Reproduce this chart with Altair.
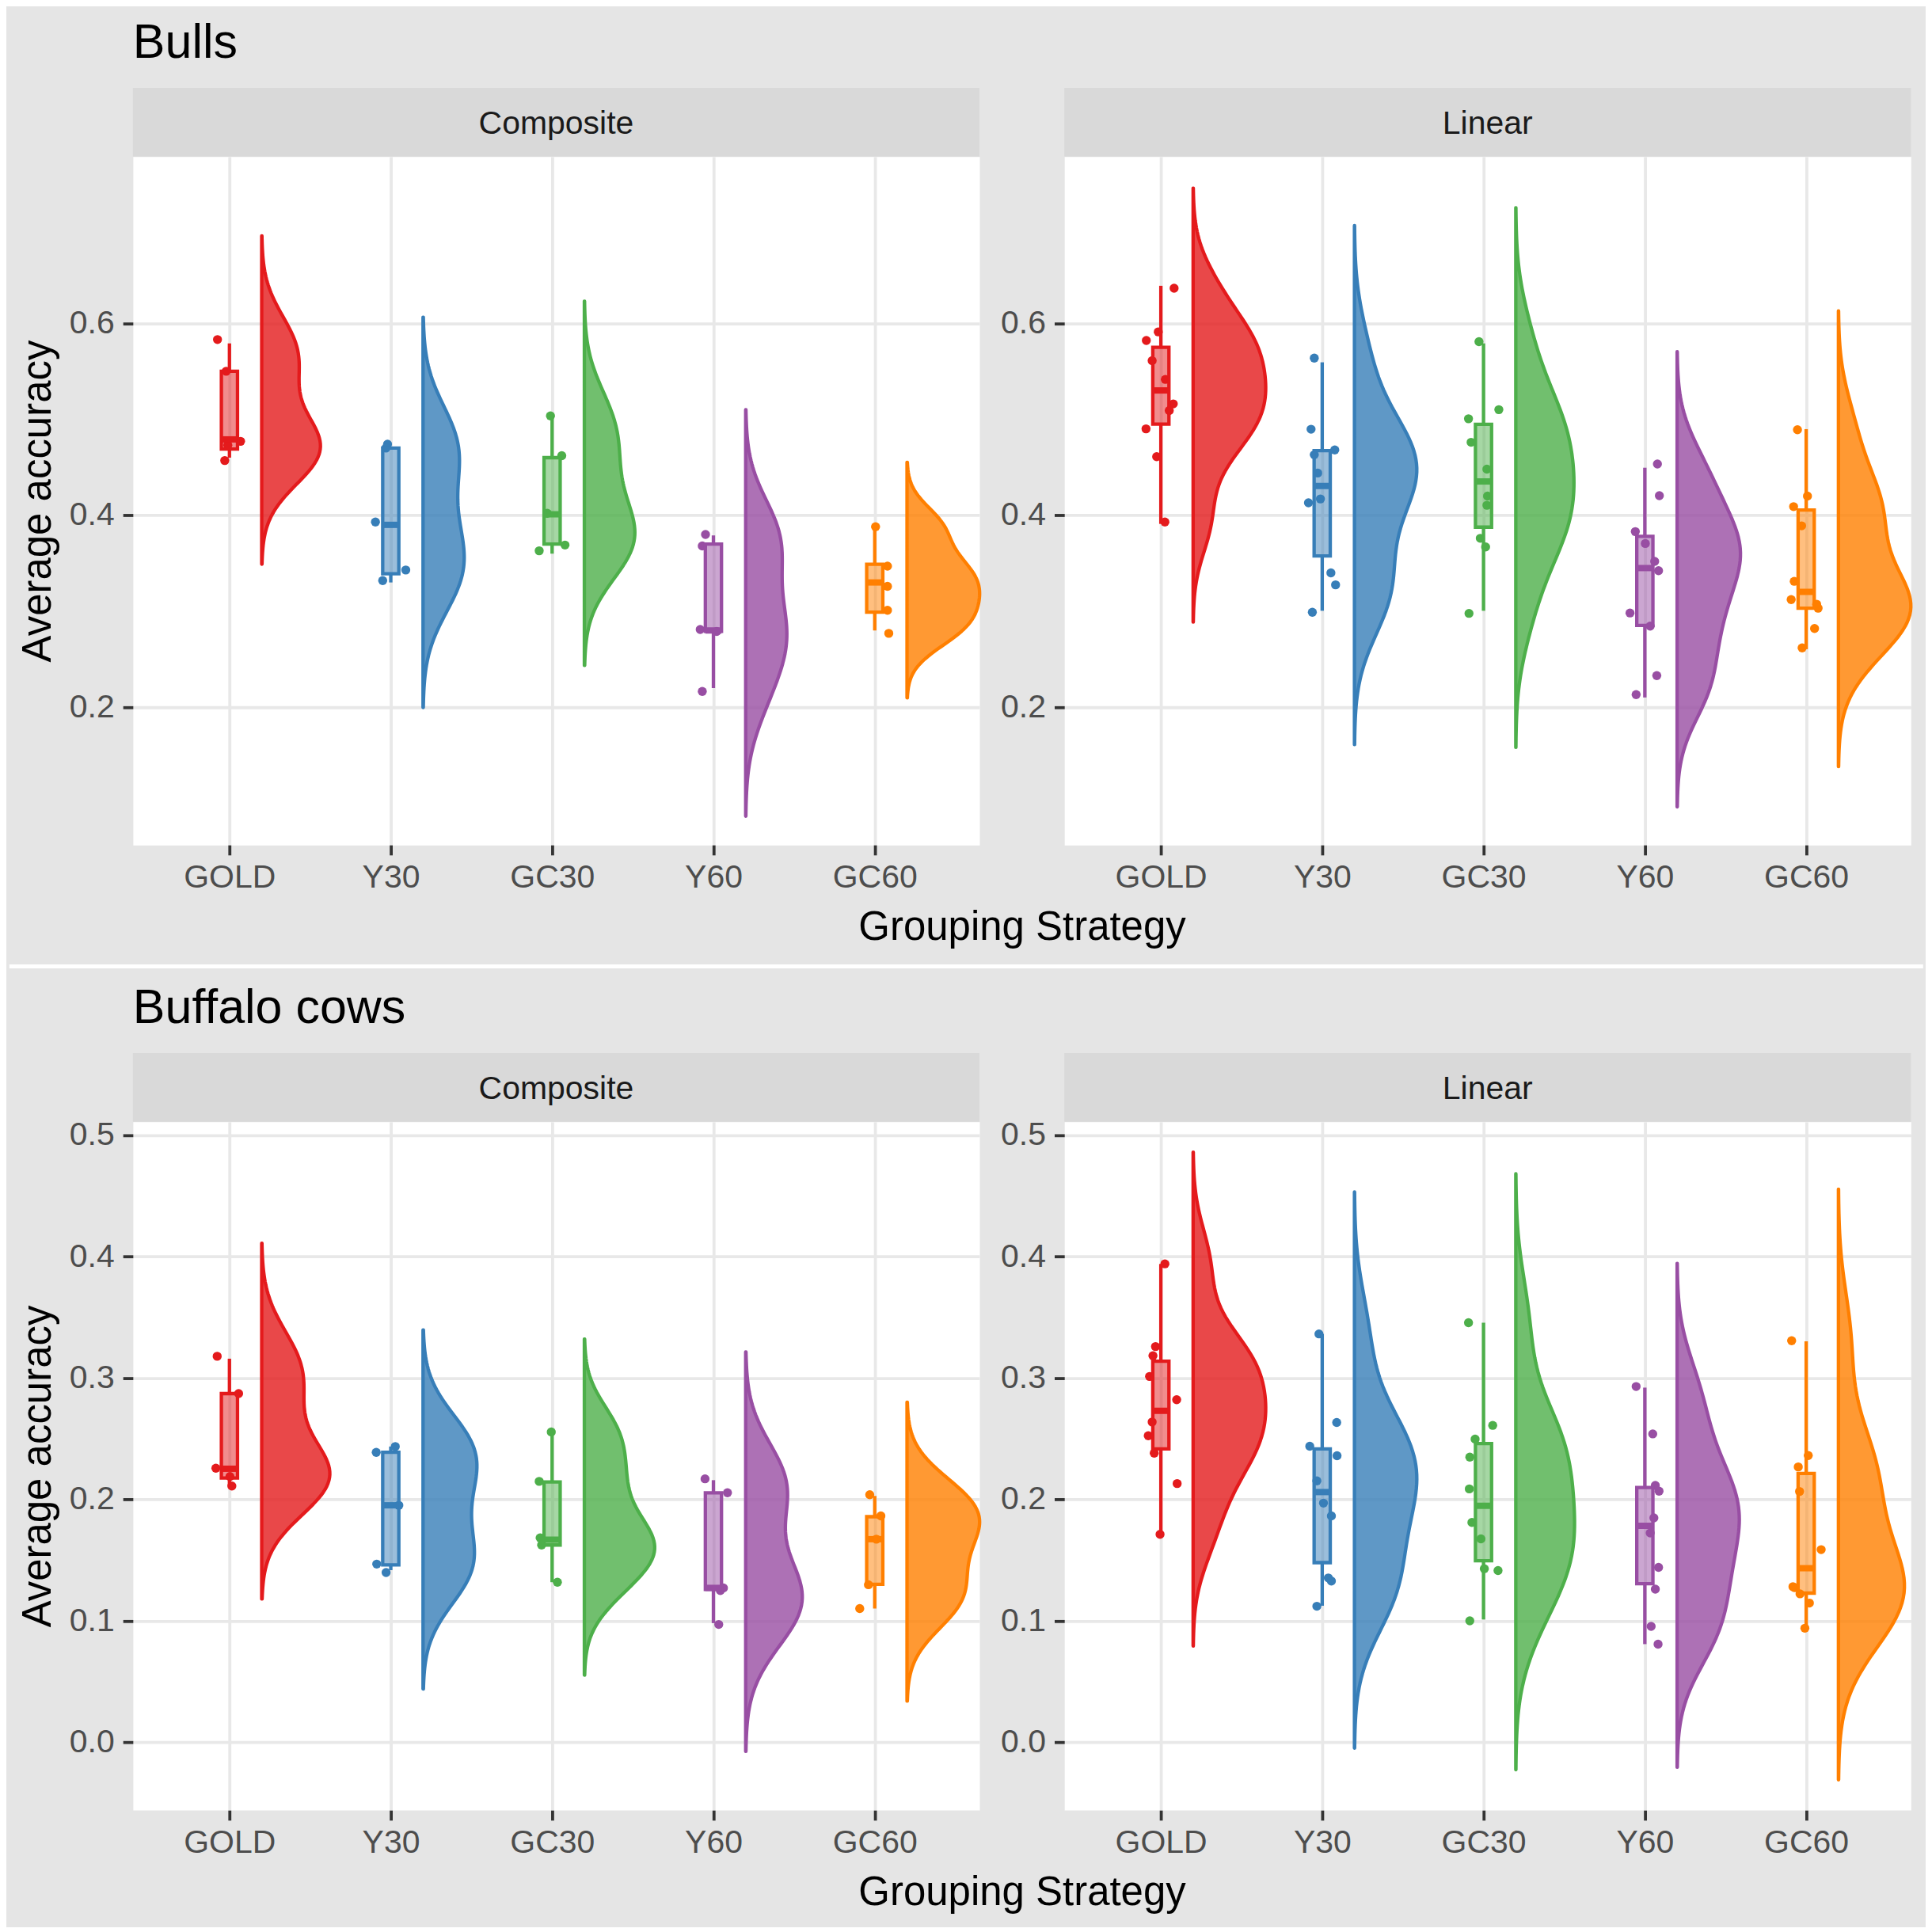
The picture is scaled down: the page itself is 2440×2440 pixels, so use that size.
import altair as alt
import pandas as pd

STRATEGIES = ["GOLD", "Y30", "GC30", "Y60", "GC60"]
COLORS = ["#E41A1C", "#377EB8", "#4DAF4A", "#984EA3", "#FF7F00"]
MODELS = ["Composite", "Linear"]
DATASETS = ["Bulls", "Buffalo cows"]

# ---------------- Bulls / Composite ----------------
BULLS_COMPOSITE_VALUES = [
    [0.583, 0.550, 0.477, 0.473, 0.457],
    [0.474, 0.470, 0.393, 0.343, 0.332],
    [0.5035, 0.462, 0.402, 0.369, 0.363],
    [0.380, 0.368, 0.281, 0.279, 0.2165],
    [0.388, 0.347, 0.326, 0.301, 0.277],
]
BULLS_COMPOSITE_JITTER = [
    [-0.074, -0.020, 0.069, -0.010, -0.029],
    [-0.020, -0.030, -0.095, 0.093, -0.050],
    [-0.010, 0.060, -0.030, 0.080, -0.080],
    [-0.049, -0.069, -0.082, 0.020, -0.069],
    [0.005, 0.079, 0.079, 0.079, 0.087],
]
BULLS_COMPOSITE_LOWER = [0.460, 0.330, 0.360, 0.220, 0.280]
BULLS_COMPOSITE_Q1 = [0.469, 0.339, 0.370, 0.279, 0.299]
BULLS_COMPOSITE_MEDIAN = [0.479, 0.390, 0.401, 0.280, 0.330]
BULLS_COMPOSITE_Q3 = [0.550, 0.470, 0.460, 0.370, 0.349]
BULLS_COMPOSITE_UPPER = [0.579, 0.470, 0.503, 0.379, 0.388]

# ---------------- Bulls / Linear ----------------
BULLS_LINEAR_VALUES = [
    [0.6365, 0.591, 0.582, 0.561, 0.5415, 0.516, 0.509, 0.490, 0.461, 0.393],
    [0.5637, 0.4896, 0.468, 0.463, 0.444, 0.417, 0.413, 0.340, 0.3275, 0.299],
    [0.5808, 0.510, 0.5005, 0.476, 0.448, 0.420, 0.4104, 0.376, 0.367, 0.2978],
    [0.4534, 0.4204, 0.383, 0.3706, 0.352, 0.3422, 0.2982, 0.2845, 0.233, 0.2132],
    [0.4891, 0.420, 0.409, 0.389, 0.3312, 0.3122, 0.3073, 0.3032, 0.282, 0.2619],
]
BULLS_LINEAR_JITTER = [
    [0.082, -0.016, -0.090, -0.054, 0.028, 0.077, 0.052, -0.092, -0.026, 0.025],
    [-0.049, -0.069, 0.078, -0.049, -0.028, -0.011, -0.085, 0.054, 0.083, -0.061],
    [-0.028, 0.095, -0.093, -0.077, 0.021, 0.025, 0.021, -0.020, 0.013, -0.090],
    [0.078, 0.090, -0.059, 0.003, 0.061, 0.085, -0.092, 0.033, 0.074, -0.054],
    [-0.054, 0.008, -0.078, -0.028, -0.074, -0.093, 0.065, 0.074, 0.052, -0.025],
]
BULLS_LINEAR_LOWER = [0.391, 0.3005, 0.3005, 0.2102, 0.2605]
BULLS_LINEAR_Q1 = [0.495, 0.3577, 0.3876, 0.2853, 0.3032]
BULLS_LINEAR_MEDIAN = [0.530, 0.4305, 0.4352, 0.345, 0.3202]
BULLS_LINEAR_Q3 = [0.575, 0.4673, 0.4948, 0.378, 0.4055]
BULLS_LINEAR_UPPER = [0.639, 0.5593, 0.579, 0.4495, 0.4897]

# ---------------- Buffalo cows / Composite ----------------
BUFFALO_COMPOSITE_VALUES = [
    [0.318, 0.2873, 0.2258, 0.219, 0.2112],
    [0.2437, 0.2389, 0.1953, 0.1469, 0.140],
    [0.2557, 0.215, 0.1685, 0.1626, 0.132],
    [0.2171, 0.2056, 0.1273, 0.1251, 0.0972],
    [0.204, 0.1866, 0.1674, 0.1299, 0.1103],
]
BUFFALO_COMPOSITE_JITTER = [
    [-0.076, 0.057, -0.084, 0.003, 0.015],
    [0.028, -0.090, 0.050, -0.087, -0.029],
    [-0.005, -0.080, -0.074, -0.065, 0.033],
    [-0.052, 0.087, 0.062, 0.043, 0.033],
    [-0.031, 0.038, 0.010, -0.039, -0.093],
]
BUFFALO_COMPOSITE_LOWER = [0.2106, 0.1419, 0.132, 0.0983, 0.1103]
BUFFALO_COMPOSITE_Q1 = [0.2178, 0.1462, 0.1626, 0.126, 0.1303]
BUFFALO_COMPOSITE_MEDIAN = [0.2254, 0.1953, 0.167, 0.1273, 0.1674]
BUFFALO_COMPOSITE_Q3 = [0.2873, 0.2389, 0.2145, 0.2056, 0.1859]
BUFFALO_COMPOSITE_UPPER = [0.316, 0.2437, 0.2557, 0.216, 0.203]

# ---------------- Buffalo cows / Linear ----------------
BUFFALO_LINEAR_VALUES = [
    [0.3941, 0.326, 0.3184, 0.3014, 0.2822, 0.2639, 0.2526, 0.2382, 0.2132, 0.1714],
    [0.3364, 0.2635, 0.2439, 0.2361, 0.2154, 0.1971, 0.1866, 0.1355, 0.1329, 0.1122],
    [0.3456, 0.2611, 0.2498, 0.235, 0.2088, 0.1812, 0.1677, 0.1431, 0.1416, 0.1002],
    [0.2931, 0.2541, 0.2117, 0.2069, 0.1849, 0.1725, 0.1442, 0.1263, 0.0956, 0.081],
    [0.3308, 0.2363, 0.2269, 0.2067, 0.1588, 0.1283, 0.1275, 0.1224, 0.1148, 0.0941],
]
BUFFALO_LINEAR_JITTER = [
    [0.025, -0.033, -0.049, -0.070, 0.098, -0.054, -0.078, -0.041, 0.101, -0.005],
    [-0.020, 0.090, -0.077, 0.092, -0.033, 0.008, 0.057, 0.038, 0.057, -0.033],
    [-0.093, 0.057, -0.052, -0.085, -0.088, -0.072, -0.016, 0.005, 0.090, -0.085],
    [-0.054, 0.049, 0.065, 0.088, 0.056, 0.033, 0.085, 0.065, 0.039, 0.082],
    [-0.090, 0.013, -0.049, -0.041, 0.093, -0.082, -0.070, -0.038, 0.020, -0.008],
]
BUFFALO_LINEAR_LOWER = [0.1714, 0.1126, 0.1013, 0.081, 0.0941]
BUFFALO_LINEAR_Q1 = [0.2417, 0.1481, 0.1496, 0.1307, 0.123]
BUFFALO_LINEAR_MEDIAN = [0.2731, 0.2062, 0.1949, 0.1784, 0.1435]
BUFFALO_LINEAR_Q3 = [0.314, 0.2417, 0.2461, 0.2099, 0.2215]
BUFFALO_LINEAR_UPPER = [0.394, 0.3364, 0.3456, 0.2922, 0.3303]

BULLS_YTICKS = [0.2, 0.4, 0.6]
BULLS_YDOMAIN = [0.0566, 0.7735]
BUFFALO_YTICKS = [0.0, 0.1, 0.2, 0.3, 0.4, 0.5]
BUFFALO_YDOMAIN = [-0.0557, 0.511]

# ---------------- layout / style ----------------
W, H, SH = 1070, 870, 87
GAP = 107.3          # horizontal gap between the two panels
BLOCK_GAP = 263      # from bottom of upper panels to top of lower strips
XDOM = [0.4017, 5.649]
G = 120
BG = "#E5E5E5"
STRIP = "#D9D9D9"
GRID = "#E8E8E8"
FONT = "Liberation Sans"
LW = 4.3             # line width of violins, boxes, whiskers

cscale = alt.Scale(domain=STRATEGIES, range=COLORS)
LABEL_EXPR = "[''," + ",".join("'%s'" % s for s in STRATEGIES) + "][datum.value]"


def points_frame(values, jitter):
    rows = []
    for i, s in enumerate(STRATEGIES):
        for v, d in zip(values[i], jitter[i]):
            rows.append({"strategy": s, "pos": i + 1, "value": v, "dx": d})
    return pd.DataFrame(rows)


def box_frame(lower, q1, med, q3, upper):
    return pd.DataFrame({
        "strategy": STRATEGIES, "pos": list(range(1, 6)),
        "lw": lower, "q1": q1, "med": med, "q3": q3, "uw": upper,
    })


def make_axes(yticks, left):
    xaxis = alt.Axis(
        values=[1, 2, 3, 4, 5], labelExpr=LABEL_EXPR,
        title="Grouping Strategy" if left else "",
        grid=True, gridColor=GRID, gridWidth=3.8, domain=False,
        tickColor="#333333", tickWidth=3.8, tickSize=12.7,
        labelFont=FONT, labelFontSize=41, labelColor="#4D4D4D", labelPadding=9,
        titleFont=FONT, titleFontSize=51, titleColor="black", titleFontWeight="normal",
        titleX=1123.6, titleY=119, titleAlign="center", titleBaseline="alphabetic",
    )
    yaxis = alt.Axis(
        values=yticks, format=".1f",
        title="Average accuracy" if left else "",
        grid=True, gridColor=GRID, gridWidth=3.8, domain=False,
        tickColor="#333333", tickWidth=3.8, tickSize=12.7,
        labelFont=FONT, labelFontSize=41, labelColor="#4D4D4D", labelPadding=11,
        titleFont=FONT, titleFontSize=51, titleColor="black", titleFontWeight="normal",
        titleAngle=270, titleX=-104, titleY=H / 2, titleAlign="center",
        titleBaseline="alphabetic",
    )
    return xaxis, yaxis


def panel(values, jitter, lower, q1, med, q3, upper, ydom, yticks, left, bottom_marker=False):
    pts = points_frame(values, jitter)
    box = box_frame(lower, q1, med, q3, upper)
    xs = alt.Scale(domain=XDOM, nice=False, zero=False)
    ys = alt.Scale(domain=ydom, nice=False, zero=False)
    xaxis, yaxis = make_axes(yticks, left)
    fill = alt.Fill("strategy:N", scale=cscale, legend=None)
    stroke = alt.Stroke("strategy:N", scale=cscale, legend=None)
    color = alt.Color("strategy:N", scale=cscale, legend=None)

    # half violin: Gaussian KDE (bw.nrd0, cut = 3) computed with Vega-Lite transforms
    violin = (
        alt.Chart(pts)
        .transform_joinaggregate(
            joinaggregate=[
                alt.JoinAggregateFieldDef(op="count", field="value", **{"as": "n"}),
                alt.JoinAggregateFieldDef(op="stdev", field="value", **{"as": "sd"}),
                alt.JoinAggregateFieldDef(op="q1", field="value", **{"as": "lq"}),
                alt.JoinAggregateFieldDef(op="q3", field="value", **{"as": "uq"}),
                alt.JoinAggregateFieldDef(op="min", field="value", **{"as": "mn"}),
                alt.JoinAggregateFieldDef(op="max", field="value", **{"as": "mx"}),
            ],
            groupby=["strategy"],
        )
        .transform_calculate(bw="0.9*min(datum.sd,(datum.uq-datum.lq)/1.34)*pow(datum.n,-0.2)")
        .transform_calculate(g="sequence(0,%d)" % (G + 1))
        .transform_flatten(["g"])
        .transform_calculate(yv="datum.mn-3*datum.bw+datum.g*(datum.mx-datum.mn+6*datum.bw)/%d" % G)
        .transform_calculate(k="exp(-0.5*pow((datum.yv-datum.value)/datum.bw,2))/(datum.bw*sqrt(2*PI)*datum.n)")
        .transform_aggregate(dens="sum(k)", groupby=["strategy", "pos", "g", "yv"])
        .transform_joinaggregate(dmax="max(dens)")
        .transform_calculate(xv="datum.pos+0.2+0.45*datum.dens/datum.dmax", x0="datum.pos+0.2")
        .mark_area(orient="horizontal", fillOpacity=0.8, strokeWidth=LW, strokeJoin="round")
        .encode(
            y=alt.Y("yv:Q", scale=ys, axis=yaxis),
            x=alt.X("xv:Q", scale=xs, axis=xaxis),
            x2="x0:Q",
            detail="strategy:N",
            fill=fill, stroke=stroke,
        )
    )

    points = (
        alt.Chart(pts)
        .transform_calculate(xp="datum.pos+datum.dx")
        .mark_circle(size=130, opacity=1)
        .encode(
            x=alt.X("xp:Q", scale=xs, axis=xaxis),
            y=alt.Y("value:Q", scale=ys, axis=yaxis),
            color=color,
        )
    )

    bbase = alt.Chart(box).transform_calculate(xl="datum.pos-0.05", xr="datum.pos+0.05")
    whisk_lo = bbase.mark_rule(strokeWidth=LW).encode(
        x=alt.X("pos:Q", scale=xs, axis=xaxis),
        y=alt.Y("lw:Q", scale=ys, axis=yaxis), y2="q1:Q", color=color)
    whisk_hi = bbase.mark_rule(strokeWidth=LW).encode(
        x=alt.X("pos:Q", scale=xs, axis=xaxis),
        y=alt.Y("q3:Q", scale=ys, axis=yaxis), y2="uw:Q", color=color)
    rect = bbase.mark_rect(fillOpacity=0.5, strokeWidth=LW).encode(
        x=alt.X("xl:Q", scale=xs, axis=xaxis), x2="xr:Q",
        y=alt.Y("q1:Q", scale=ys, axis=yaxis), y2="q3:Q",
        fill=fill, stroke=stroke)
    median = bbase.mark_rule(strokeWidth=8).encode(
        x=alt.X("xl:Q", scale=xs, axis=xaxis), x2="xr:Q",
        y=alt.Y("med:Q", scale=ys, axis=yaxis), color=color)

    layers = [violin, points, whisk_lo, whisk_hi, rect, median]
    if bottom_marker:
        layers.append(
            alt.Chart(box).mark_rule(color=BG, strokeWidth=1).encode(
                x=alt.value(0), x2=alt.value(20), y=alt.value(1015.5))
        )
    return alt.layer(*layers).properties(width=W, height=H)


def strip(label, title="", top_gap=0, top_marker=False, separator=False):
    """Grey facet strip (drawn as a rect) with an optional block title above it."""
    base = alt.Chart(pd.DataFrame({"label": [label]}))
    layers = [
        base.mark_rect(color=STRIP).encode(
            x=alt.value(0), x2=alt.value(W), y=alt.value(top_gap), y2=alt.value(top_gap + SH)),
        base.mark_text(font=FONT, fontSize=41, color="#1A1A1A", align="center",
                       baseline="alphabetic").encode(
            text="label:N", x=alt.value(W / 2), y=alt.value(top_gap + SH / 2 + 14.5)),
    ]
    if title:
        layers.append(
            base.mark_text(font=FONT, fontSize=61, color="black", align="left",
                           baseline="alphabetic").encode(
                text=alt.value(title), x=alt.value(0), y=alt.value(top_gap - 38))
        )
    if top_marker:
        layers.append(
            base.mark_rule(color=BG, strokeWidth=1).encode(
                x=alt.value(0), x2=alt.value(20), y=alt.value(top_gap - 100.5))
        )
    if separator:
        layers.append(
            base.mark_rule(color="white", strokeWidth=5).encode(
                x=alt.value(-156.2), x2=alt.value(2262.8), y=alt.value(top_gap - 109.5))
        )
    return alt.layer(*layers).properties(
        width=W, height=top_gap + SH,
        view=alt.ViewBackground(fill="transparent", stroke="transparent"))


cells = [
    strip("Composite", title="Bulls", top_marker=True),
    strip("Linear"),
    panel(BULLS_COMPOSITE_VALUES, BULLS_COMPOSITE_JITTER, BULLS_COMPOSITE_LOWER,
          BULLS_COMPOSITE_Q1, BULLS_COMPOSITE_MEDIAN, BULLS_COMPOSITE_Q3,
          BULLS_COMPOSITE_UPPER, BULLS_YDOMAIN, BULLS_YTICKS, left=True),
    panel(BULLS_LINEAR_VALUES, BULLS_LINEAR_JITTER, BULLS_LINEAR_LOWER,
          BULLS_LINEAR_Q1, BULLS_LINEAR_MEDIAN, BULLS_LINEAR_Q3,
          BULLS_LINEAR_UPPER, BULLS_YDOMAIN, BULLS_YTICKS, left=False),
    strip("Composite", title="Buffalo cows", top_gap=BLOCK_GAP, separator=True),
    strip("Linear", top_gap=BLOCK_GAP),
    panel(BUFFALO_COMPOSITE_VALUES, BUFFALO_COMPOSITE_JITTER, BUFFALO_COMPOSITE_LOWER,
          BUFFALO_COMPOSITE_Q1, BUFFALO_COMPOSITE_MEDIAN, BUFFALO_COMPOSITE_Q3,
          BUFFALO_COMPOSITE_UPPER, BUFFALO_YDOMAIN, BUFFALO_YTICKS, left=True,
          bottom_marker=True),
    panel(BUFFALO_LINEAR_VALUES, BUFFALO_LINEAR_JITTER, BUFFALO_LINEAR_LOWER,
          BUFFALO_LINEAR_Q1, BUFFALO_LINEAR_MEDIAN, BUFFALO_LINEAR_Q3,
          BUFFALO_LINEAR_UPPER, BUFFALO_YDOMAIN, BUFFALO_YTICKS, left=False),
]

chart = (
    alt.concat(*cells, columns=2, spacing={"row": 0, "column": GAP},
               bounds="flush", align="each")
    .properties(padding=0, background=BG)
    .configure_view(fill="white", stroke="transparent")
)

chart.save("out.html", embed_options={"renderer": "svg", "actions": False})
